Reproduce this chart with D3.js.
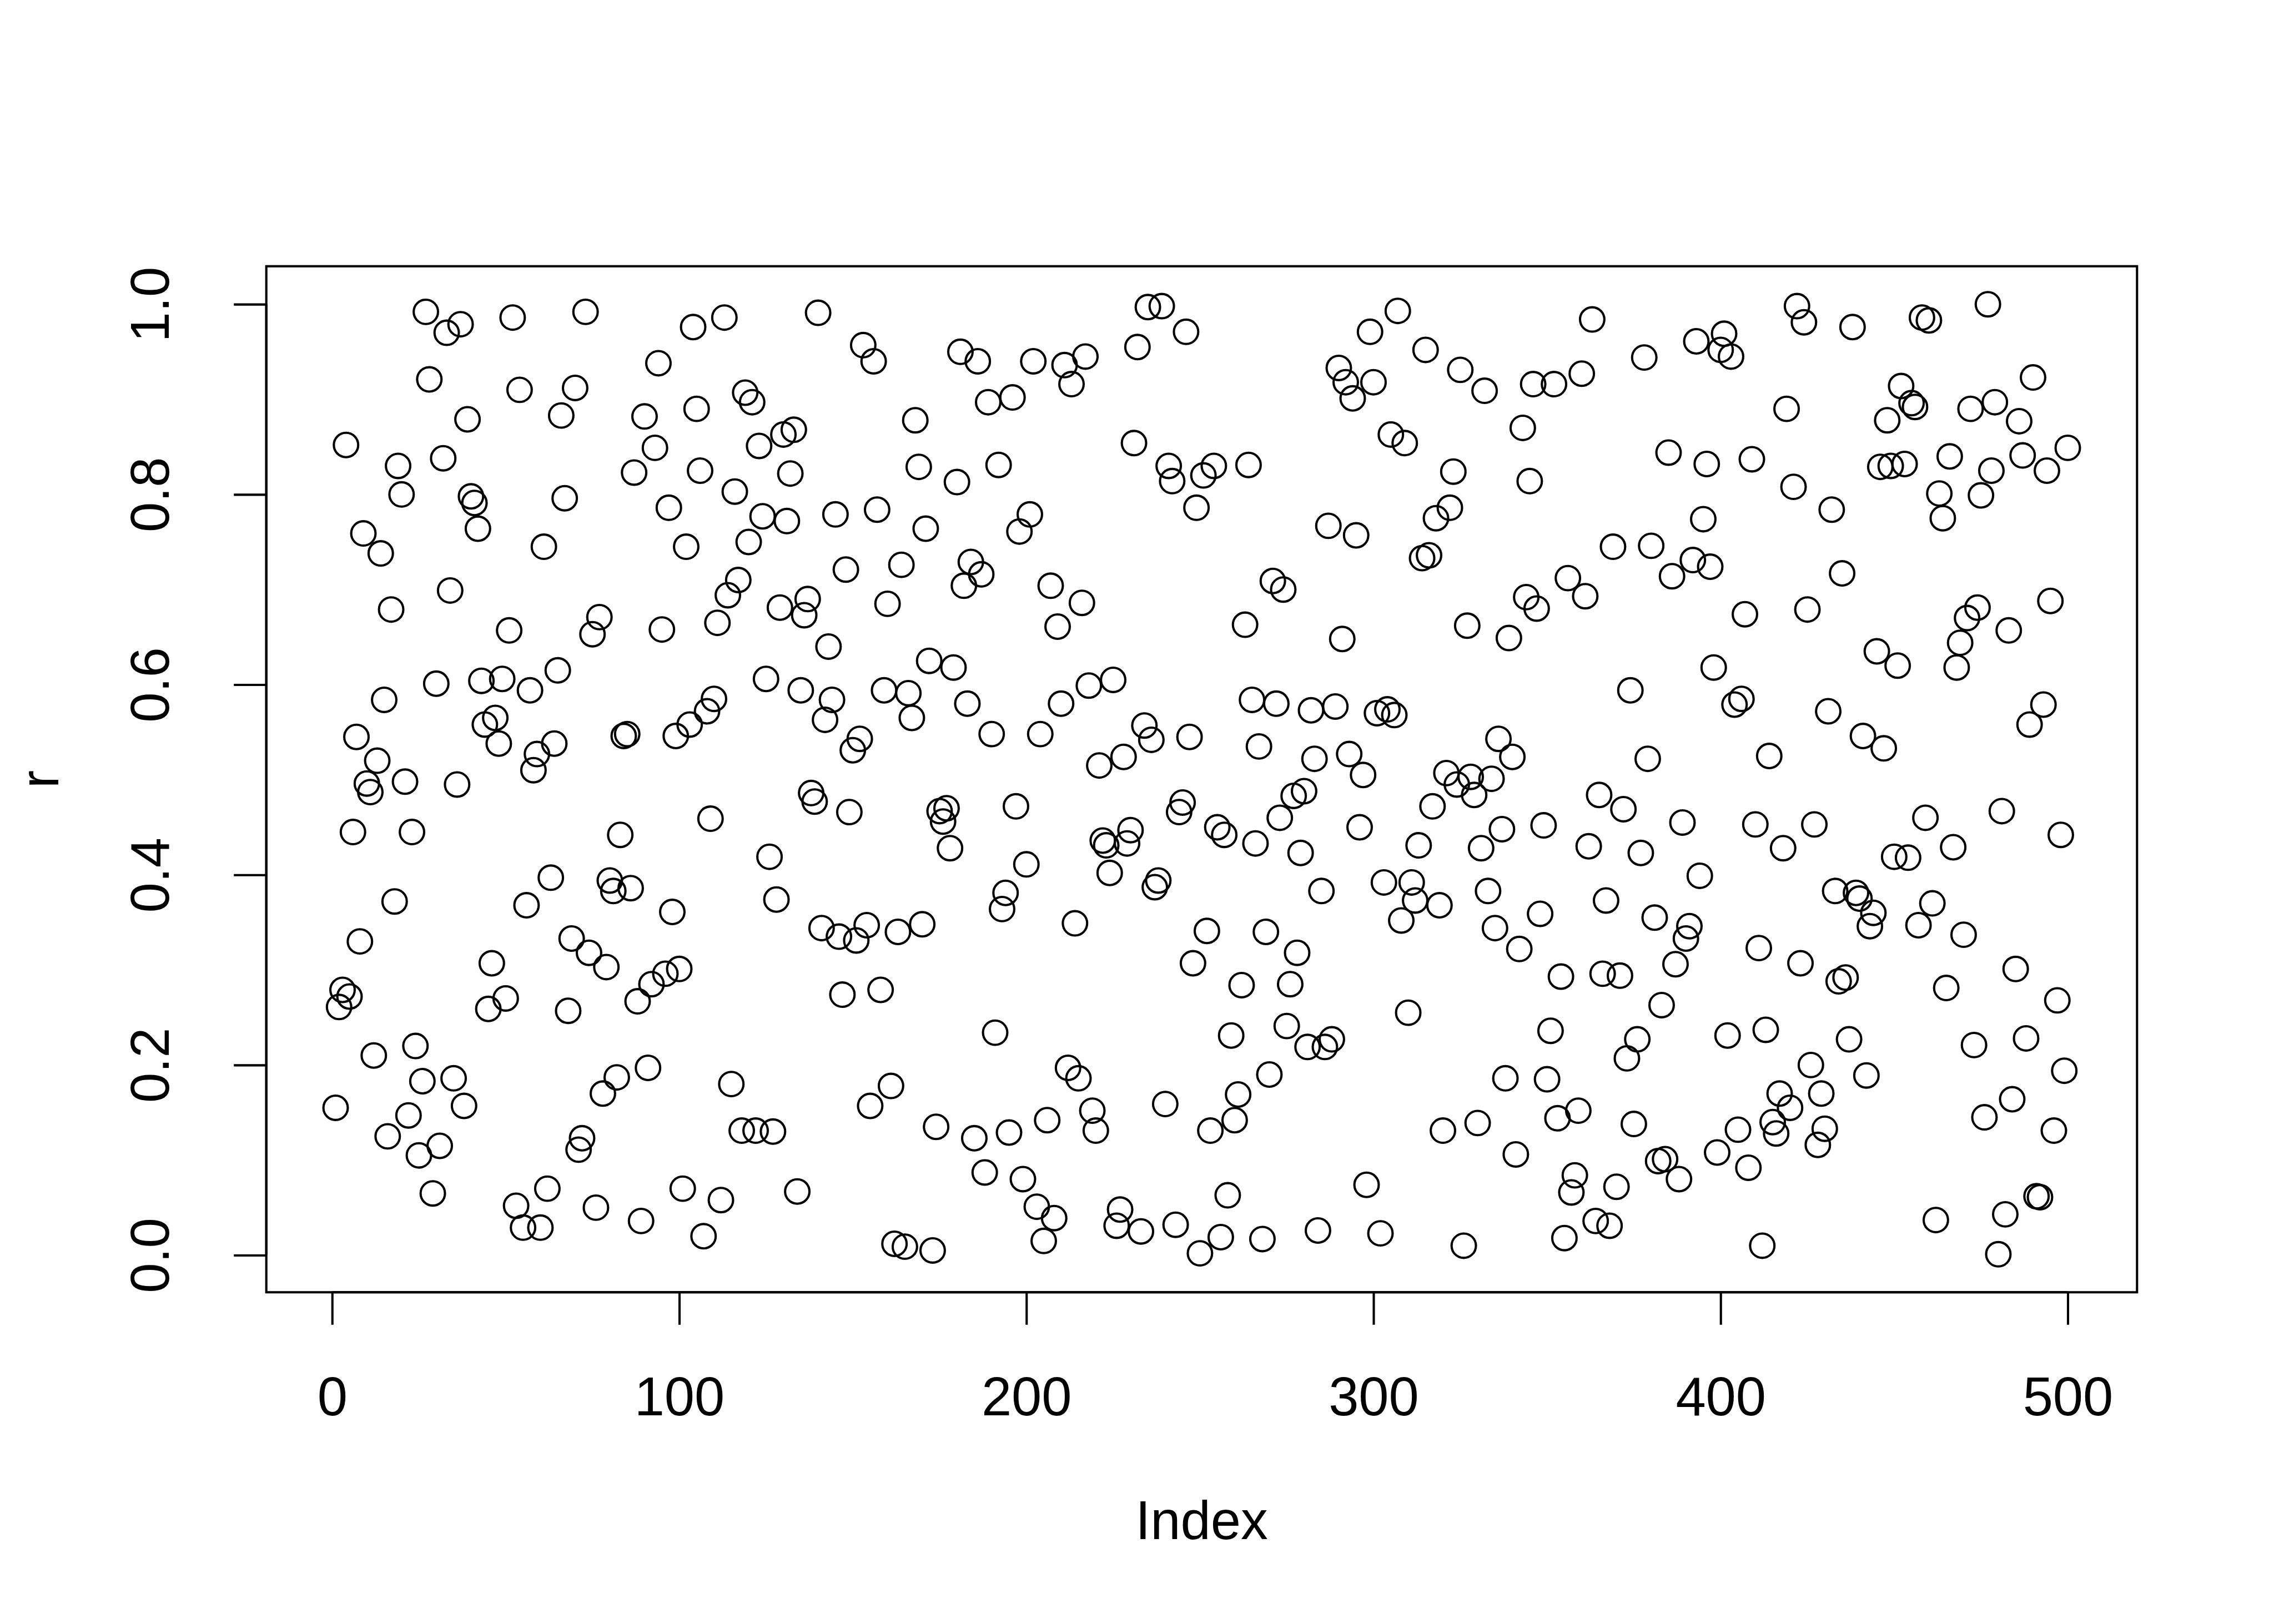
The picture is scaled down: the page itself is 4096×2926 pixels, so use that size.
<!DOCTYPE html>
<html>
<head>
<meta charset="utf-8">
<script src="https://cdn.jsdelivr.net/npm/d3@7"></script>
<style>
  body { margin: 0; background: #fff; }
  svg { display: block; }
</style>
</head>
<body>
<div id="container"></div>
<script>
// values, index 1..500
const r = [
  0.155, 0.261, 0.279, 0.852, 0.272, 0.445, 0.545, 0.330, 0.759, 0.496,
  0.487, 0.210, 0.520, 0.738, 0.584, 0.125, 0.679, 0.372, 0.830, 0.800,
  0.498, 0.147, 0.445, 0.220, 0.105, 0.183, 0.992, 0.921, 0.065, 0.601,
  0.115, 0.838, 0.970, 0.699, 0.186, 0.495, 0.979, 0.157, 0.879, 0.798,
  0.791, 0.764, 0.604, 0.558, 0.259, 0.307, 0.565, 0.538, 0.606, 0.270,
  0.657, 0.986, 0.052, 0.910, 0.029, 0.368, 0.594, 0.510, 0.527, 0.029,
  0.745, 0.070, 0.397, 0.538, 0.615, 0.883, 0.796, 0.257, 0.333, 0.912,
  0.111, 0.123, 0.992, 0.318, 0.653, 0.050, 0.671, 0.170, 0.303, 0.394,
  0.383, 0.187, 0.442, 0.546, 0.548, 0.386, 0.823, 0.267, 0.036, 0.882,
  0.197, 0.285, 0.849, 0.938, 0.658, 0.296, 0.786, 0.361, 0.546, 0.301,
  0.070, 0.745, 0.558, 0.976, 0.890, 0.825, 0.020, 0.572, 0.459, 0.585,
  0.665, 0.058, 0.986, 0.694, 0.180, 0.803, 0.710, 0.131, 0.907, 0.750,
  0.897, 0.131, 0.851, 0.777, 0.606, 0.419, 0.130, 0.374, 0.681, 0.863,
  0.772, 0.822, 0.868, 0.067, 0.594, 0.673, 0.690, 0.486, 0.477, 0.991,
  0.344, 0.563, 0.640, 0.584, 0.779, 0.335, 0.274, 0.721, 0.466, 0.531,
  0.331, 0.543, 0.957, 0.347, 0.157, 0.940, 0.784, 0.279, 0.594, 0.685,
  0.178, 0.012, 0.340, 0.726, 0.009, 0.591, 0.565, 0.878, 0.829, 0.348,
  0.764, 0.625, 0.005, 0.135, 0.467, 0.456, 0.470, 0.428, 0.618, 0.813,
  0.950, 0.704, 0.580, 0.729, 0.123, 0.940, 0.716, 0.087, 0.897, 0.548,
  0.234, 0.831, 0.364, 0.381, 0.129, 0.902, 0.472, 0.761, 0.080, 0.411,
  0.779, 0.940, 0.051, 0.548, 0.015, 0.142, 0.704, 0.039, 0.661, 0.580,
  0.936, 0.197, 0.916, 0.349, 0.186, 0.686, 0.945, 0.599, 0.152, 0.131,
  0.515, 0.436, 0.431, 0.402, 0.605, 0.031, 0.048, 0.524, 0.433, 0.447,
  0.854, 0.955, 0.025, 0.557, 0.997, 0.542, 0.387, 0.394, 0.998, 0.159,
  0.830, 0.814, 0.032, 0.466, 0.476, 0.971, 0.545, 0.307, 0.786, 0.002,
  0.820, 0.341, 0.131, 0.830, 0.450, 0.019, 0.442, 0.063, 0.231, 0.142,
  0.169, 0.284, 0.663, 0.831, 0.584, 0.433, 0.535, 0.017, 0.340, 0.190,
  0.709, 0.580, 0.460, 0.700, 0.241, 0.285, 0.483, 0.318, 0.423, 0.488,
  0.219, 0.573, 0.522, 0.026, 0.383, 0.219, 0.767, 0.227, 0.577, 0.933,
  0.648, 0.918, 0.527, 0.901, 0.757, 0.450, 0.505, 0.074, 0.971, 0.918,
  0.570, 0.023, 0.392, 0.574, 0.863, 0.568, 0.993, 0.352, 0.854, 0.255,
  0.392, 0.373, 0.431, 0.733, 0.952, 0.736, 0.472, 0.775, 0.368, 0.131,
  0.507, 0.786, 0.824, 0.495, 0.931, 0.010, 0.662, 0.503, 0.484, 0.139,
  0.428, 0.909, 0.383, 0.501, 0.344, 0.543, 0.448, 0.186, 0.649, 0.524,
  0.106, 0.322, 0.870, 0.692, 0.814, 0.916, 0.680, 0.359, 0.452, 0.185,
  0.236, 0.916, 0.144, 0.293, 0.018, 0.712, 0.066, 0.084, 0.152, 0.927,
  0.693, 0.430, 0.984, 0.036, 0.484, 0.296, 0.373, 0.031, 0.745, 0.072,
  0.294, 0.469, 0.207, 0.594, 0.138, 0.227, 0.423, 0.944, 0.522, 0.746,
  0.355, 0.099, 0.263, 0.101, 0.844, 0.714, 0.306, 0.080, 0.455, 0.333,
  0.346, 0.731, 0.961, 0.399, 0.774, 0.832, 0.724, 0.618, 0.108, 0.952,
  0.969, 0.231, 0.945, 0.579, 0.132, 0.585, 0.674, 0.092, 0.837, 0.453,
  0.323, 0.010, 0.237, 0.525, 0.140, 0.128, 0.170, 0.428, 0.890, 0.155,
  0.808, 0.998, 0.307, 0.981, 0.679, 0.200, 0.453, 0.116, 0.170, 0.133,
  0.572, 0.784, 0.383, 0.288, 0.717, 0.292, 0.227, 0.976, 0.381, 0.375,
  0.546, 0.189, 0.346, 0.360, 0.635, 0.829, 0.533, 0.878, 0.830, 0.419,
  0.620, 0.914, 0.832, 0.418, 0.896, 0.892, 0.347, 0.986, 0.460, 0.983,
  0.370, 0.037, 0.801, 0.775, 0.281, 0.840, 0.429, 0.618, 0.644, 0.337,
  0.670, 0.890, 0.221, 0.681, 0.799, 0.145, 1.000, 0.825, 0.897, 0.001,
  0.467, 0.043, 0.657, 0.164, 0.301, 0.877, 0.841, 0.228, 0.558, 0.923,
  0.062, 0.061, 0.579, 0.825, 0.688, 0.131, 0.268, 0.442, 0.194, 0.849
];
const xTicks = [0, 100, 200, 300, 400, 500];
const yTicks = [0.0, 0.2, 0.4, 0.6, 0.8, 1.0];
const xTitle = 'Index';
const yTitle = 'r';

// reference is 4200x3000, drawn at 0.975
const config = {
    width: 4200,
    height: 3000,
    scale: 0.975,
    line: 120,          // one margin line in R
    marBottom: 5.1,
    marLeft: 4.1,
    marTop: 4.1,
    marRight: 2.1,
    font: 100,
    radius: 22.5,
    lwd: 4.2,
}

const plotLeft = config.marLeft * config.line
const plotRight = config.width - config.marRight * config.line
const plotTop = config.marTop * config.line
const plotBottom = config.height - config.marBottom * config.line

const svg = d3.select('#container')
    .append('svg')
    .attr('width', config.width * config.scale)
    .attr('height', config.height * config.scale)
    .attr('viewBox', `0 0 ${config.width} ${config.height}`)
    .style('font-family', '"Liberation Sans", Arial, Helvetica, sans-serif')

svg.append('rect')
    .attr('width', config.width)
    .attr('height', config.height)
    .attr('fill', 'white')

const points = r.map((v, i) => ({index: i + 1, value: v}))

// R pads the data range by 4% on both sides
const padRange = ([a, b]) => [a - (b - a) * 0.04, b + (b - a) * 0.04]

const xScale = d3.scaleLinear()
    .domain(padRange([1, r.length]))
    .range([plotLeft, plotRight])

const yScale = d3.scaleLinear()
    .domain(padRange(d3.extent(r)))
    .range([plotBottom, plotTop])

// x axis
const xAxis = svg.append('g')
    .attr('class', 'x-axis')
    .attr('transform', `translate(0,${plotBottom})`)
    .call(d3.axisBottom(xScale)
        .tickValues(xTicks)
        .tickFormat(d3.format('d'))
        .tickSize(60)
        .tickPadding(96))

xAxis.select('.domain').remove()
xAxis.append('line')
    .attr('x1', xScale(xTicks[0]))
    .attr('x2', xScale(xTicks[xTicks.length - 1]))
    .attr('stroke', 'black')
xAxis.selectAll('line')
    .attr('stroke', 'black')
    .attr('stroke-width', config.lwd)
xAxis.selectAll('text')
    .attr('fill', 'black')
    .style('font-size', `${config.font}px`)

// y axis, labels parallel to the axis
const yAxis = svg.append('g')
    .attr('class', 'y-axis')
    .attr('transform', `translate(${plotLeft},0)`)
    .call(d3.axisLeft(yScale)
        .tickValues(yTicks)
        .tickFormat(d3.format('.1f'))
        .tickSize(60))

yAxis.select('.domain').remove()
yAxis.append('line')
    .attr('y1', yScale(yTicks[0]))
    .attr('y2', yScale(yTicks[yTicks.length - 1]))
    .attr('stroke', 'black')
yAxis.selectAll('line')
    .attr('stroke', 'black')
    .attr('stroke-width', config.lwd)
yAxis.selectAll('.tick text')
    .attr('x', null)
    .attr('dy', null)
    .attr('text-anchor', 'middle')
    .attr('transform', 'translate(-180,0) rotate(-90)')
    .attr('fill', 'black')
    .style('font-size', `${config.font}px`)

// box
svg.append('rect')
    .attr('x', plotLeft)
    .attr('y', plotTop)
    .attr('width', plotRight - plotLeft)
    .attr('height', plotBottom - plotTop)
    .attr('fill', 'none')
    .attr('stroke', 'black')
    .attr('stroke-width', config.lwd)

// points, pch = 1
svg.append('g')
    .selectAll('circle')
    .data(points)
    .join('circle')
    .attr('cx', d => xScale(d.index))
    .attr('cy', d => yScale(d.value))
    .attr('r', config.radius)
    .attr('fill', 'none')
    .attr('stroke', 'black')
    .attr('stroke-width', config.lwd)

svg.append('text')
    .attr('text-anchor', 'middle')
    .attr('x', (plotLeft + plotRight) / 2)
    .attr('y', plotBottom + 3.8 * config.line)
    .text(xTitle)
    .style('font-size', `${config.font}px`)
    .attr('fill', 'black')

svg.append('text')
    .attr('text-anchor', 'middle')
    .attr('transform', `translate(${plotLeft - 3.2 * config.line},${(plotTop + plotBottom) / 2}) rotate(-90)`)
    .text(yTitle)
    .style('font-size', `${config.font}px`)
    .attr('fill', 'black')
</script>
</body>
</html>
